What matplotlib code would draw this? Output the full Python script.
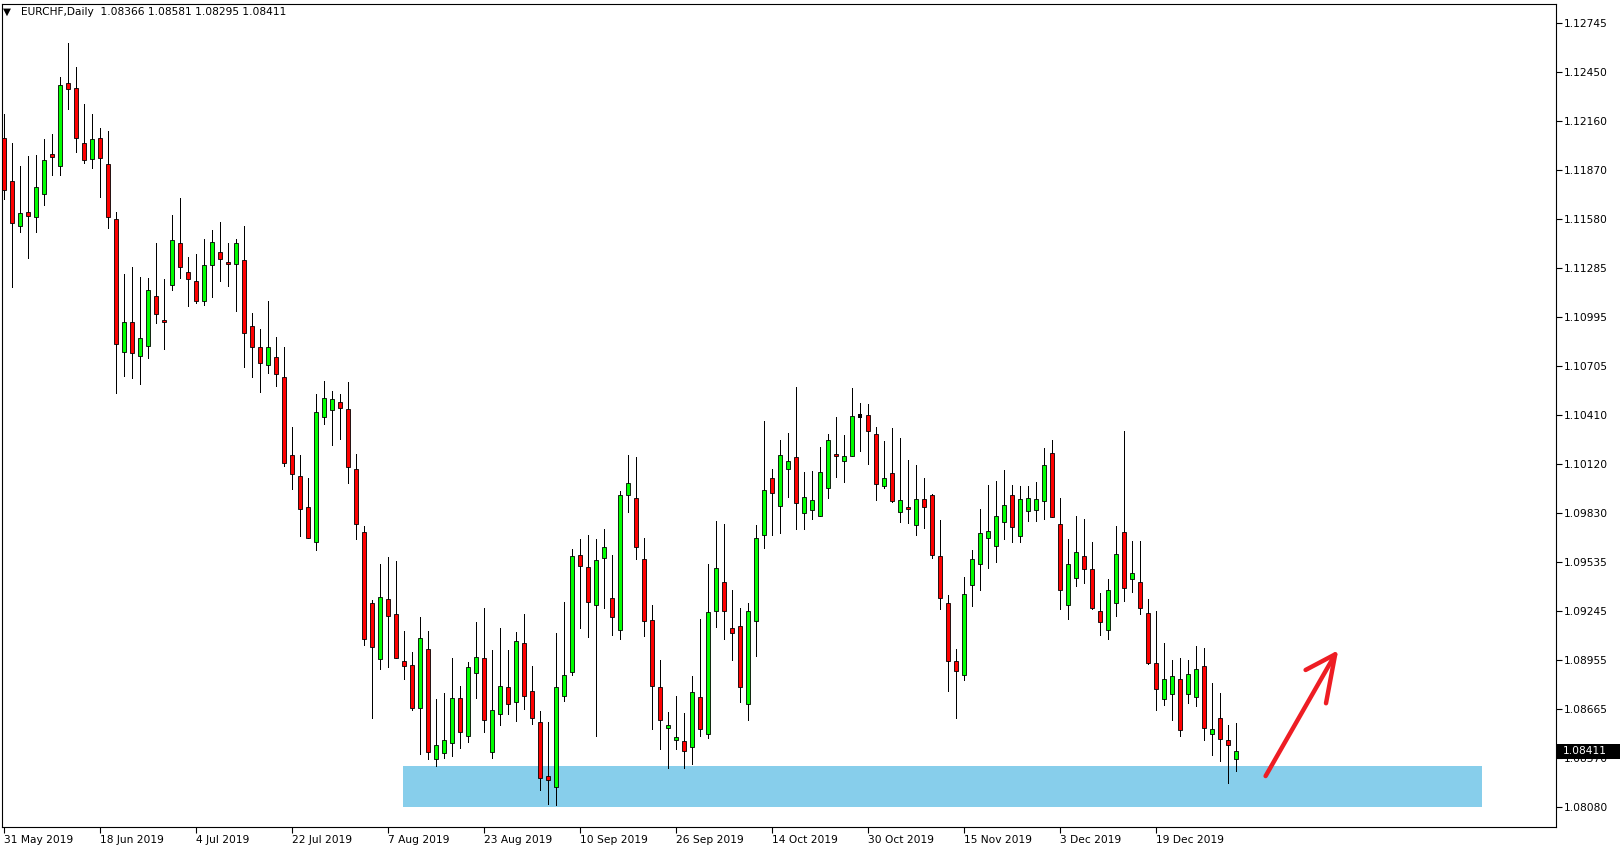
import numpy as np
import matplotlib.pyplot as plt
import matplotlib.transforms as mtransforms
from matplotlib.patches import Rectangle

# EURCHF daily bars, 31 May 2019 onwards
opens = [1.12057, 1.11803, 1.11534, 1.11617, 1.11587, 1.11724, 1.11964, 1.11891, 1.12385, 1.12355,
         1.12028, 1.11932, 1.12057, 1.11903, 1.11575, 1.10784, 1.10963, 1.10760, 1.10820, 1.11117,
         1.10975, 1.11183, 1.11433, 1.11260, 1.11207, 1.11088, 1.11302, 1.11379, 1.11320, 1.11310,
         1.11332, 1.10939, 1.10814, 1.10707, 1.10755, 1.10636, 1.10172, 1.10047, 1.09862, 1.09654,
         1.10397, 1.10439, 1.10487, 1.10445, 1.10088, 1.09713, 1.09291, 1.08958, 1.09315, 1.09226,
         1.08946, 1.08922, 1.08666, 1.09017, 1.08363, 1.08399, 1.08458, 1.08726, 1.08500, 1.08874,
         1.08964, 1.08410, 1.08636, 1.08791, 1.08702, 1.09053, 1.08767, 1.08583, 1.08262, 1.08196,
         1.08738, 1.08880, 1.09576, 1.09505, 1.09279, 1.09559, 1.09321, 1.09130, 1.09933, 1.09916,
         1.09553, 1.09190, 1.08792, 1.08548, 1.08476, 1.08470, 1.08435, 1.08732, 1.08512, 1.09244,
         1.09416, 1.09143, 1.09155, 1.08691, 1.09184, 1.09696, 1.10035, 1.09868, 1.10089, 1.10160,
         1.09827, 1.09845, 1.09809, 1.09976, 1.10178, 1.10136, 1.10166, 1.10408, 1.10410, 1.10297,
         1.09987, 1.10065, 1.09833, 1.09863, 1.09755, 1.09910, 1.09934, 1.09571, 1.09291, 1.08947,
         1.08863, 1.09398, 1.09523, 1.09678, 1.09630, 1.09773, 1.09934, 1.09690, 1.09839, 1.09845,
         1.09898, 1.10184, 1.09761, 1.09280, 1.09440, 1.09571, 1.09494, 1.09244, 1.09131, 1.09291,
         1.09714, 1.09434, 1.09416, 1.09232, 1.08934, 1.08720, 1.08750, 1.08839, 1.08750, 1.08732,
         1.08917, 1.08512, 1.08607, 1.08476, 1.08366]
highs = [1.12202, 1.12032, 1.11893, 1.11952, 1.11958, 1.12053, 1.12083, 1.12422, 1.12624, 1.12482,
         1.12262, 1.12202, 1.12119, 1.12101, 1.11617, 1.11250, 1.11292, 1.11232, 1.11226, 1.11435,
         1.11221, 1.11601, 1.11702, 1.11351, 1.11369, 1.11459, 1.11512, 1.11560, 1.11435, 1.11459,
         1.11536, 1.11018, 1.10923, 1.11090, 1.10876, 1.10816, 1.10340, 1.10174, 1.10037, 1.10536,
         1.10614, 1.10554, 1.10536, 1.10608, 1.10179, 1.09751, 1.09311, 1.09525, 1.09567, 1.09543,
         1.09126, 1.08999, 1.09210, 1.09126, 1.08722, 1.08758, 1.08966, 1.08799, 1.08940, 1.09180,
         1.09263, 1.09013, 1.09144, 1.09013, 1.09120, 1.09227, 1.08918, 1.08650, 1.08585, 1.09114,
         1.09299, 1.09614, 1.09674, 1.09697, 1.09674, 1.09733, 1.09578, 1.09957, 1.10173, 1.10162,
         1.09678, 1.09280, 1.08954, 1.08645, 1.08740, 1.08639, 1.08859, 1.09198, 1.09525, 1.09781,
         1.09763, 1.09371, 1.09262, 1.09291, 1.09755, 1.10376, 1.10089, 1.10263, 1.10303, 1.10578,
         1.10071, 1.10079, 1.10221, 1.10299, 1.10400, 1.10293, 1.10572, 1.10483, 1.10477, 1.10340,
         1.10257, 1.10334, 1.10275, 1.10144, 1.10114, 1.10037, 1.09942, 1.09787, 1.09341, 1.09018,
         1.09446, 1.09607, 1.09853, 1.09995, 1.10019, 1.10085, 1.09995, 1.09989, 1.09989, 1.10013,
         1.10215, 1.10263, 1.09918, 1.09674, 1.09809, 1.09793, 1.09656, 1.09353, 1.09434, 1.09751,
         1.10317, 1.09662, 1.09662, 1.09315, 1.09244, 1.09053, 1.08952, 1.08964, 1.08952, 1.09036,
         1.09024, 1.08815, 1.08756, 1.08566, 1.08581]
lows = [1.11694, 1.11175, 1.11502, 1.11347, 1.11502, 1.11661, 1.11839, 1.11839, 1.12232, 1.11978,
        1.11913, 1.11883, 1.11708, 1.11526, 1.10544, 1.10645, 1.10634, 1.10598, 1.10749, 1.10961,
        1.10806, 1.11157, 1.11229, 1.11062, 1.11080, 1.11068, 1.11115, 1.11211, 1.11181, 1.11032,
        1.10699, 1.10640, 1.10546, 1.10663, 1.10582, 1.10106, 1.09973, 1.09694, 1.09678, 1.09606,
        1.10360, 1.10235, 1.10271, 1.10009, 1.09676, 1.09045, 1.08611, 1.08898, 1.08910, 1.08964,
        1.08839, 1.08658, 1.08393, 1.08363, 1.08323, 1.08369, 1.08381, 1.08428, 1.08464, 1.08730,
        1.08527, 1.08369, 1.08565, 1.08636, 1.08593, 1.08660, 1.08571, 1.08184, 1.08095, 1.08089,
        1.08708, 1.08863, 1.09142, 1.09089, 1.08500, 1.09261, 1.09101, 1.09077, 1.09832, 1.09553,
        1.09099, 1.08546, 1.08423, 1.08310, 1.08423, 1.08310, 1.08334, 1.08500, 1.08488, 1.09153,
        1.09077, 1.08952, 1.08702, 1.08599, 1.08976, 1.09619, 1.09696, 1.09708, 1.09922, 1.09732,
        1.09732, 1.09791, 1.09809, 1.09916, 1.10045, 1.10015, 1.10166, 1.10196, 1.10118, 1.09904,
        1.09976, 1.09892, 1.09773, 1.09767, 1.09696, 1.09738, 1.09559, 1.09256, 1.08768, 1.08612,
        1.08834, 1.09278, 1.09369, 1.09500, 1.09539, 1.09672, 1.09654, 1.09654, 1.09779, 1.09779,
        1.09791, 1.09803, 1.09256, 1.09196, 1.09393, 1.09410, 1.09256, 1.09101, 1.09077, 1.09218,
        1.09307, 1.09357, 1.09226, 1.08929, 1.08655, 1.08685, 1.08595, 1.08500, 1.08696, 1.08679,
        1.08476, 1.08387, 1.08351, 1.08221, 1.08295]
closes = [1.11748, 1.11552, 1.11611, 1.11597, 1.11766, 1.11926, 1.11944, 1.12373, 1.12349, 1.12057,
          1.11926, 1.12051, 1.11938, 1.11587, 1.10832, 1.10963, 1.10778, 1.10868, 1.11153, 1.11010,
          1.10963, 1.11451, 1.11290, 1.11219, 1.11088, 1.11302, 1.11439, 1.11338, 1.11310, 1.11433,
          1.10897, 1.10814, 1.10719, 1.10814, 1.10653, 1.10124, 1.10059, 1.09850, 1.09678, 1.10427,
          1.10510, 1.10505, 1.10451, 1.10100, 1.09761, 1.09077, 1.09029, 1.09327, 1.09214, 1.08964,
          1.08916, 1.08666, 1.09083, 1.08405, 1.08446, 1.08476, 1.08726, 1.08524, 1.08910, 1.08970,
          1.08595, 1.08654, 1.08797, 1.08690, 1.09065, 1.08738, 1.08607, 1.08250, 1.08238, 1.08791,
          1.08863, 1.09570, 1.09511, 1.09297, 1.09547, 1.09624, 1.09208, 1.09933, 1.10005, 1.09625,
          1.09184, 1.08798, 1.08595, 1.08566, 1.08494, 1.08411, 1.08762, 1.08542, 1.09238, 1.09500,
          1.09244, 1.09113, 1.08792, 1.09244, 1.09678, 1.09964, 1.09946, 1.10172, 1.10136, 1.09886,
          1.09922, 1.09904, 1.10071, 1.10261, 1.10166, 1.10166, 1.10404, 1.10408, 1.10315, 1.09999,
          1.10035, 1.09898, 1.09904, 1.09851, 1.09910, 1.09863, 1.09577, 1.09321, 1.08946, 1.08887,
          1.09345, 1.09553, 1.09708, 1.09720, 1.09809, 1.09874, 1.09744, 1.09910, 1.09916, 1.09910,
          1.10112, 1.09803, 1.09369, 1.09523, 1.09595, 1.09494, 1.09262, 1.09178, 1.09369, 1.09583,
          1.09381, 1.09470, 1.09262, 1.08934, 1.08780, 1.08839, 1.08857, 1.08536, 1.08869, 1.08899,
          1.08548, 1.08542, 1.08482, 1.08447, 1.08411]

date_labels = ["31 May 2019", "18 Jun 2019", "4 Jul 2019", "22 Jul 2019", "7 Aug 2019",
               "23 Aug 2019", "10 Sep 2019", "26 Sep 2019", "14 Oct 2019", "30 Oct 2019",
               "15 Nov 2019", "3 Dec 2019", "19 Dec 2019"]
price_ticks = [1.08080, 1.08370, 1.08665, 1.08955, 1.09245, 1.09535, 1.09830, 1.10120,
               1.10410, 1.10705, 1.10995, 1.11285, 1.11580, 1.11870, 1.12160, 1.12450, 1.12745]
symbol = "EURCHF,Daily"
zone_low, zone_high = 1.08080, 1.08324
# hand drawn arrow: (bar, price) points
arrow_shaft = ([157.7, 166.4], [1.08264, 1.08988])
arrow_head = ([162.7, 166.4, 165.25], [1.08895, 1.08988, 1.08697])

W, H = 1620, 850
fig = plt.figure(figsize=(W / 100, H / 100), dpi=100)
ax = fig.add_axes([2 / W, 1 - 827 / H, 1554 / W, 823 / H])

x = np.arange(len(opens))
ax.vlines(x, lows, highs, color="black", lw=0.72, antialiased=False, zorder=3)
bw = 0.62
for i in x:
    o, c = opens[i], closes[i]
    if c == o:
        ax.hlines(o, i - bw / 2, i + bw / 2, color="black", lw=1.5, antialiased=False, zorder=4)
        continue
    col = "#00ff00" if c > o else "#ff0000"
    ax.add_patch(Rectangle((i - bw / 2, min(o, c)), bw, abs(c - o), facecolor=col,
                           edgecolor="black", lw=0.6, zorder=4))

# support zone
ax.add_patch(Rectangle((49.9, zone_low), 184.8 - 49.9, zone_high - zone_low,
                       facecolor="#87ceeb", edgecolor="none", zorder=1))

# red arrow
ax.plot(*arrow_shaft, color="#ee1d24", lw=3.2, solid_capstyle="round", zorder=6)
ax.plot(*arrow_head, color="#ee1d24", lw=3.2, solid_capstyle="round",
        solid_joinstyle="round", zorder=6)

ax.set_xlim(-0.25, 194.0)
ax.set_ylim(1.07961, 1.12856)

ax.set_xticks(x[::12])
ax.set_xticklabels(date_labels, ha="left", fontsize=7.7)
ax.yaxis.tick_right()
ax.set_yticks(price_ticks)
ax.set_yticklabels(["%.5f" % p for p in price_ticks], fontsize=7.7)
ax.tick_params(axis="both", direction="out", length=4, width=0.8, colors="black", pad=2)
for s in ax.spines.values():
    s.set_linewidth(0.8)
    s.set_color("black")

# last price box on the price scale
tr = mtransforms.blended_transform_factory(ax.transAxes, ax.transData)
ax.add_patch(Rectangle((1.0006, closes[-1] - 0.00045), 0.0418, 0.0009, transform=tr,
                       facecolor="black", edgecolor="none", clip_on=False, zorder=10))
ax.text(1.0045, closes[-1], "%.5f" % closes[-1], transform=tr, color="white", fontsize=7.7,
        va="center", ha="left", clip_on=False, zorder=11)

# header
fig.text(2.5 / W, 1 - 12 / H, "\u25bc", fontsize=7.5, va="center")
fig.text(21 / W, 1 - 12 / H, "%s  %.5f %.5f %.5f %.5f" % (symbol, opens[-1], highs[-1], lows[-1], closes[-1]),
         fontsize=7.7, va="center")

fig.savefig("out.png", dpi=100)
